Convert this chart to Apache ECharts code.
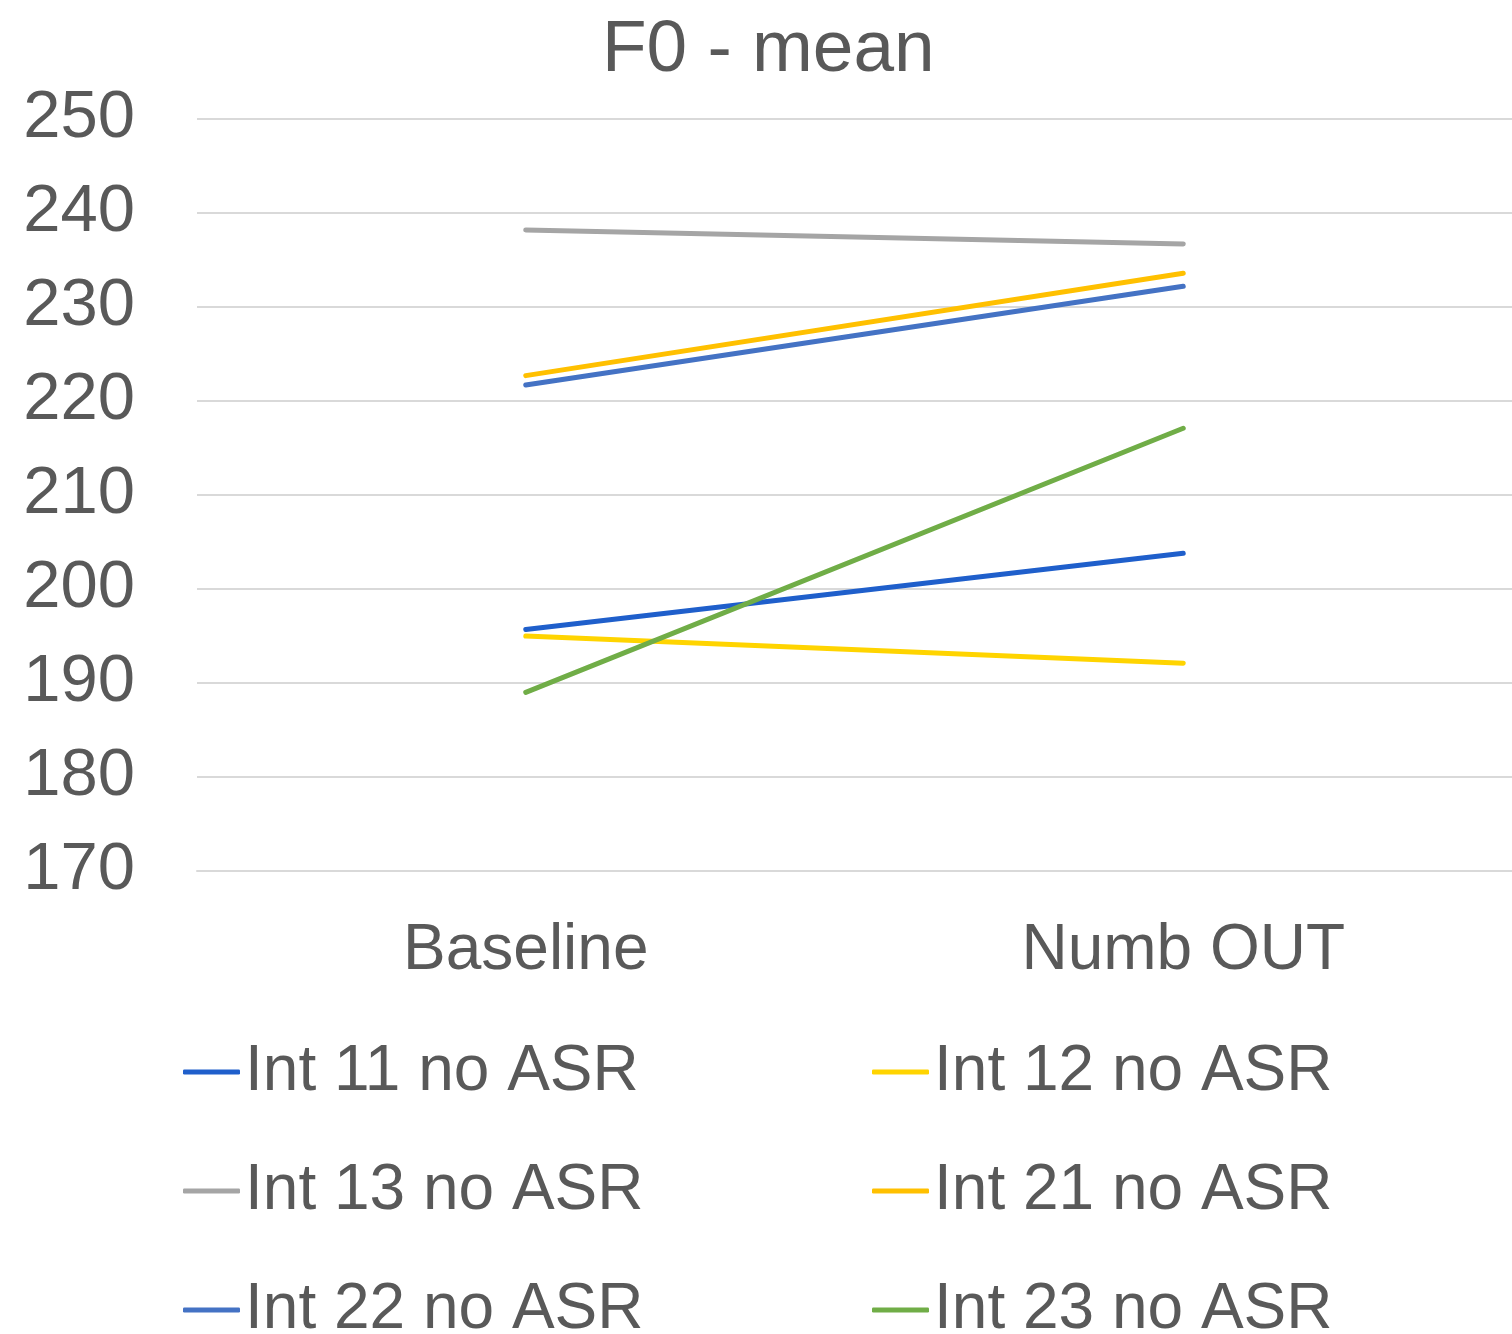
<!DOCTYPE html>
<html>
<head>
<meta charset="utf-8">
<script src="https://cdn.jsdelivr.net/npm/echarts@6/dist/echarts.min.js"></script>
<style>html,body{margin:0;padding:0;background:#fff}#c{width:1512px;height:1334px}</style>
</head>
<body>
<div id="c"></div>
<script>
const categories = ['Baseline', 'Numb OUT'];
const int11 = [195.7, 203.8];
const int12 = [195.0, 192.1];
const int13 = [238.2, 236.7];
const int21 = [222.7, 233.6];
const int22 = [221.7, 232.2];
const int23 = [189.0, 217.1];
const seriesNames = ['Int 11 no ASR', 'Int 12 no ASR', 'Int 13 no ASR', 'Int 21 no ASR', 'Int 22 no ASR', 'Int 23 no ASR'];
const seriesData = [int11, int12, int13, int21, int22, int23];
const colors = ['#1f5fcb', '#ffd400', '#a5a5a5', '#ffc000', '#4472c4', '#70ad47'];

const font = '"Liberation Sans", Arial, sans-serif';
const chart = echarts.init(document.getElementById('c'));
const legendCommon = {
  orient: 'vertical', top: 1039, height: 320, padding: 0, icon: 'roundRect', itemWidth: 57, itemHeight: 5, itemGap: 53,
  textStyle: { fontFamily: font, fontSize: 64, color: '#595959', lineHeight: 66 }
};
chart.setOption({
  animation: false,
  title: {
    text: 'F0 - mean', left: 597, top: 9,
    textStyle: { fontFamily: font, fontSize: 73, fontWeight: 'normal', color: '#595959' }
  },
  legend: [
    Object.assign({ left: 183, data: [seriesNames[0], seriesNames[2], seriesNames[4]] }, legendCommon),
    Object.assign({ left: 872, data: [seriesNames[1], seriesNames[3], seriesNames[5]] }, legendCommon)
  ],
  grid: { left: 197, right: 0, top: 119, bottom: 463, containLabel: false },
  xAxis: {
    type: 'category', data: categories, boundaryGap: true,
    axisLine: { lineStyle: { color: '#d9d9d9', width: 2 } },
    axisTick: { show: false },
    axisLabel: { fontFamily: font, fontSize: 64, color: '#595959', margin: 48 }
  },
  yAxis: {
    type: 'value', min: 170, max: 250, interval: 10,
    axisLine: { show: false }, axisTick: { show: false },
    splitLine: { lineStyle: { color: '#d9d9d9', width: 2 } },
    axisLabel: { fontFamily: font, fontSize: 67, color: '#595959', margin: 62, padding: [15, 0, 0, 0] }
  },
  series: seriesNames.map((n, i) => ({
    name: n, type: 'line', data: seriesData[i], symbol: 'none',
    lineStyle: { color: colors[i], width: 5, cap: 'round' },
    itemStyle: { color: colors[i] }
  }))
});
</script>
</body>
</html>
